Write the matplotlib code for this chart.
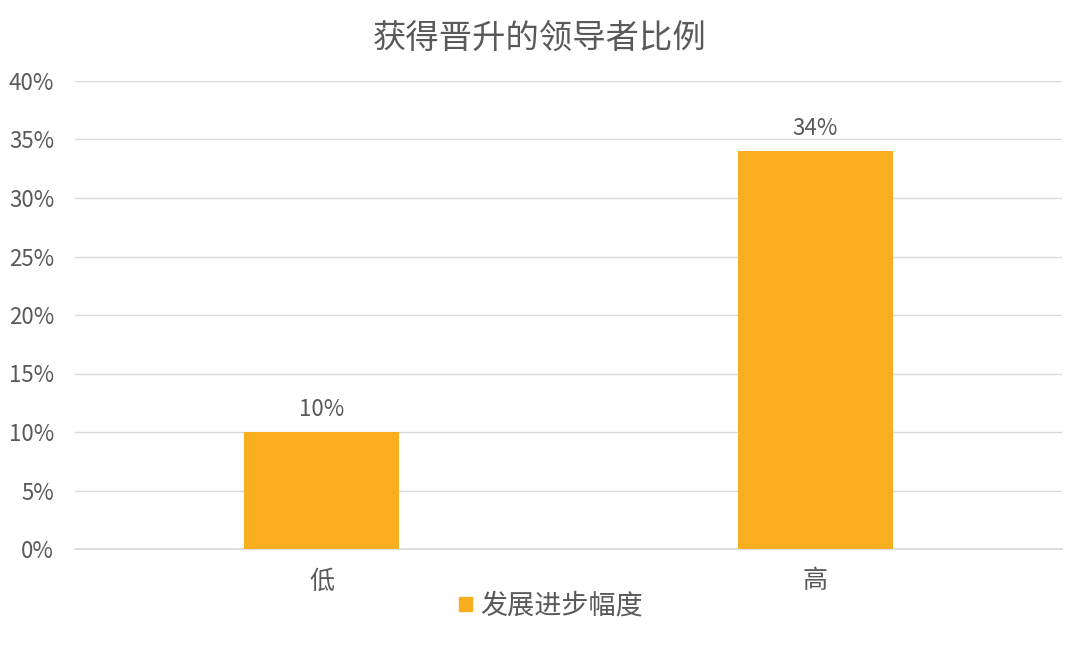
import matplotlib
matplotlib.use('Agg')
import matplotlib.pyplot as plt
from matplotlib.patches import Patch
from matplotlib.ticker import MultipleLocator, FuncFormatter

plt.rcParams['font.family'] = ['Noto Sans CJK SC', 'DejaVu Sans']

# data
categories = ['低', '高']
values = [10, 34]
series_name = '发展进步幅度'
title = '获得晋升的领导者比例'

bar_color = '#F8AE1E'
text_color = '#595959'
grid_color = '#D9D9D9'

fig = plt.figure(figsize=(10.8, 6.59), dpi=100)
ax = fig.add_axes([75 / 1080, 1 - 549 / 659, 987 / 1080, 468 / 659])

x = range(len(categories))
bars = ax.bar(x, values, width=0.314, color=bar_color, zorder=3)

ax.set_xlim(-0.5, len(categories) - 0.5)
ax.set_ylim(0, 40)
ax.yaxis.set_major_locator(MultipleLocator(5))
ax.yaxis.set_major_formatter(FuncFormatter(lambda v, p: f'{v:.0f}%'))
ax.set_xticks(list(x))
ax.set_xticklabels(categories)

ax.grid(axis='y', color=grid_color, linewidth=1, zorder=0)
for s in ['left', 'right', 'top']:
    ax.spines[s].set_visible(False)
ax.spines['bottom'].set_color(grid_color)
ax.spines['bottom'].set_linewidth(1.2)
ax.tick_params(axis='both', length=0, colors=text_color)
ax.tick_params(axis='y', labelsize=16, pad=15)
ax.tick_params(axis='x', labelsize=18, pad=14)

for b, v in zip(bars, values):
    ax.annotate(f'{v}%', (b.get_x() + b.get_width() / 2, v),
                xytext=(0, 8), textcoords='offset points',
                ha='center', va='bottom', fontsize=16, color=text_color)

fig.text(540 / 1080, 1 - 38 / 659, title, ha='center', va='center',
         fontsize=24, color=text_color)

fig.legend(handles=[Patch(color=bar_color, label=series_name)],
           loc='center', bbox_to_anchor=(551 / 1080, 1 - 606 / 659),
           frameon=False, fontsize=19.5, labelcolor=text_color,
           handlelength=0.45, handleheight=0.45, handletextpad=0.3)

fig.savefig('out.png', dpi=100)
